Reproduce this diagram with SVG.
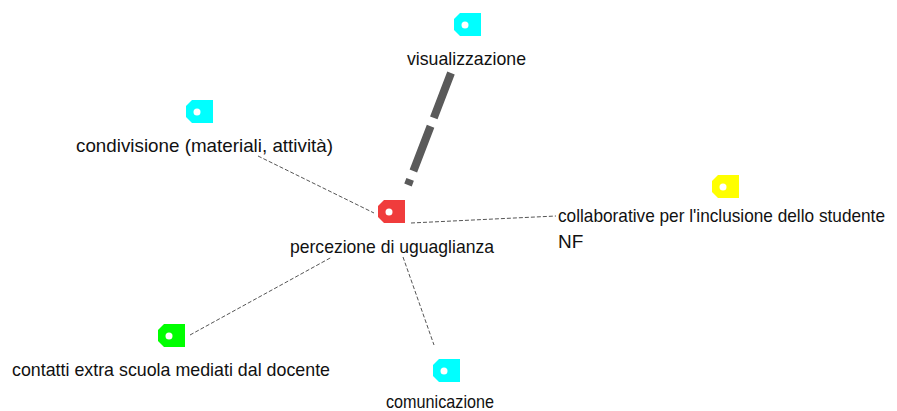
<svg xmlns="http://www.w3.org/2000/svg" xmlns:xlink="http://www.w3.org/1999/xlink" width="897" height="411" viewBox="0 0 897 411">
  <style>
    .lbl { font-family: "Liberation Sans", Arial, sans-serif; font-size: 19px; fill: #111; }
    .thin { stroke: #555; stroke-width: 1; stroke-dasharray: 4 2; fill: none; }
    .thick { stroke: #5a5a5a; stroke-width: 8; stroke-dasharray: 48 9; fill: none; }
    .hole { fill: #fff; }
  </style>
  <defs>
    <!-- tag icon: left side chamfered, punched hole -->
    <path id="tag" d="M6,0 H27 V23 H6 L0,17 V6 Z"/>
  </defs>
  <rect width="897" height="411" fill="#fff"/>

  <g id="connectors">
    <path class="thick" d="M451,73 L408,185"/>
    <path class="thin" d="M258,156 L374,213"/>
    <path class="thin" d="M411,223 L556,216"/>
    <path class="thin" d="M190,335 L332,257"/>
    <path class="thin" d="M403,257 L434,345"/>
  </g>

  <g id="percezione">
    <use xlink:href="#tag" x="378" y="200" fill="#f03c3c"/>
    <circle class="hole" cx="389" cy="212" r="3.5"/>
    <text class="lbl" x="290" y="253" textLength="204" lengthAdjust="spacingAndGlyphs">percezione di uguaglianza</text>
  </g>

  <g id="visualizzazione">
    <use xlink:href="#tag" x="454" y="13" fill="#00ffff"/>
    <circle class="hole" cx="465" cy="25" r="3.5"/>
    <text class="lbl" x="407" y="65" textLength="119" lengthAdjust="spacingAndGlyphs">visualizzazione</text>
  </g>

  <g id="condivisione">
    <use xlink:href="#tag" x="186" y="100" fill="#00ffff"/>
    <circle class="hole" cx="197" cy="112" r="3.5"/>
    <text class="lbl" x="76" y="152" textLength="257" lengthAdjust="spacingAndGlyphs">condivisione (materiali, attività)</text>
  </g>

  <g id="collaborative">
    <use xlink:href="#tag" x="712" y="175" fill="#ffff00"/>
    <circle class="hole" cx="723" cy="187" r="3.5"/>
    <text class="lbl" x="558" y="222" textLength="327" lengthAdjust="spacingAndGlyphs">collaborative per l'inclusione dello studente</text>
    <text class="lbl" x="558" y="248">NF</text>
  </g>

  <g id="contatti">
    <use xlink:href="#tag" x="158" y="324" fill="#00ff00"/>
    <circle class="hole" cx="169" cy="336" r="3.5"/>
    <text class="lbl" x="12" y="376" textLength="318" lengthAdjust="spacingAndGlyphs">contatti extra scuola mediati dal docente</text>
  </g>

  <g id="comunicazione">
    <use xlink:href="#tag" x="433" y="359" fill="#00ffff"/>
    <circle class="hole" cx="444" cy="371" r="3.5"/>
    <text class="lbl" x="386" y="408" textLength="108" lengthAdjust="spacingAndGlyphs">comunicazione</text>
  </g>
</svg>
